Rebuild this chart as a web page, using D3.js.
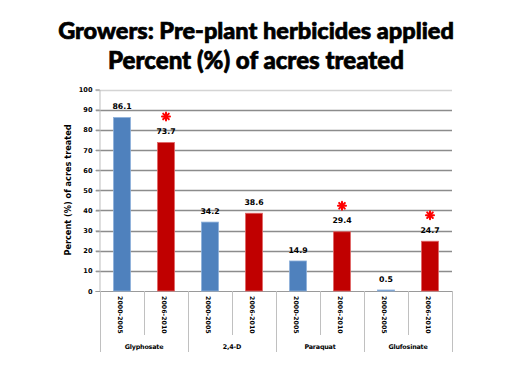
<!DOCTYPE html>
<html><head><meta charset="utf-8">
<script src="https://cdn.jsdelivr.net/npm/d3@7"></script>
<style>body{margin:0;background:#fff}svg{display:block}</style>
</head><body>
<svg id="c" width="512" height="384"></svg>
<script>
const groups = ["Glyphosate", "2,4-D", "Paraquat", "Glufosinate"];
const periods = ["2000-2005", "2006-2010"];
const values2000 = [86.1, 34.2, 14.9, 0.5];
const values2006 = [73.7, 38.6, 29.4, 24.7];
const significant = [true, false, true, true]; // asterisk on 2006-2010 bar
const yTicks = [0,10,20,30,40,50,60,70,80,90,100];
const titleLines = ["Growers: Pre-plant herbicides applied", "Percent (%) of acres treated"];
const yLabel = "Percent (%) of acres treated";

const colors = {"2000-2005": "#4F81BD", "2006-2010": "#C00000"};
const borders = {"2000-2005": "#8DB0DA", "2006-2010": "#E06666"};

const svg = d3.select("#c");
const L = 100, R = 452, T = 89.5, B = 291;
const x0 = d3.scaleBand().domain(groups).range([L, R]).padding(0);
const x1 = d3.scaleBand().domain(periods).range([0, x0.bandwidth()]).padding(0);
const y = d3.scaleLinear().domain([0, 100]).range([B, T]);
const barW = 17;

// title
const tf = "Lato, 'Open Sans', sans-serif";
const t1 = svg.append("text").attr("x", 256).attr("y", 39).attr("text-anchor","middle")
  .attr("font-family", tf).attr("font-weight", 900).attr("font-size", 23)
  .attr("stroke", "#000").attr("stroke-width", 0.7).text(titleLines[0]);
const t2 = svg.append("text").attr("x", 256).attr("y", 69).attr("text-anchor","middle")
  .attr("font-family", tf).attr("font-weight", 900).attr("font-size", 23)
  .attr("stroke", "#000").attr("stroke-width", 0.7).text(titleLines[1]);
function fit(t, w){ const l = t.node().getComputedTextLength(); t.attr("font-size", 23 * w / l); }
fit(t1, 396); fit(t2, 296);

// grid
svg.append("g").selectAll("line").data(yTicks.filter(d => d > 0)).join("line")
  .attr("x1", L - 4).attr("x2", R).attr("y1", d => Math.round(y(d)) + 0.5).attr("y2", d => Math.round(y(d)) + 0.5)
  .attr("stroke", d => d === 100 ? "#d4d4d4" : "#8c8c8c").attr("stroke-width", 1.3);

// y axis
const yAxis = d3.axisLeft(y).tickValues(yTicks).tickSize(4).tickPadding(3);
const ga = svg.append("g").attr("transform", `translate(${L - 0.5},0)`).call(yAxis);
ga.select(".domain").attr("stroke", "#bdbdbd");
ga.selectAll(".tick line").attr("stroke", "#9a9a9a");
ga.selectAll(".tick text").attr("font-family", "DejaVu Sans").attr("font-weight", "bold")
  .attr("font-size", 6.6).attr("fill", "#000");

// x axis line
svg.append("line").attr("x1", L - 4).attr("x2", R).attr("y1", B + 0.5).attr("y2", B + 0.5)
  .attr("stroke", "#9a9a9a").attr("stroke-width", 1.2);

// separators
const subs = [];
groups.forEach(g => periods.forEach(p => subs.push({g, p})));
svg.append("g").selectAll("line").data(groups).join("line")
  .attr("x1", d => x0(d) + x1.bandwidth() + 0.5).attr("x2", d => x0(d) + x1.bandwidth() + 0.5)
  .attr("y1", B).attr("y2", 335).attr("stroke", "#c0c0c0");
svg.append("g").selectAll("line").data(groups.concat(["_end"])).join("line")
  .attr("x1", (d,i) => L + i * x0.bandwidth() + 0.5).attr("x2", (d,i) => L + i * x0.bandwidth() + 0.5)
  .attr("y1", B).attr("y2", 352).attr("stroke", "#c0c0c0");

// year labels
svg.append("g").selectAll("text").data(subs).join("text")
  .attr("transform", d => `translate(${x0(d.g) + x1(d.p) + x1.bandwidth()/2 - 2},296) rotate(90)`)
  .attr("dy", "0.35em").attr("font-family", "DejaVu Sans").attr("font-weight", "bold")
  .attr("font-size", 6.3).attr("fill", "#000").text(d => d.p);

// group labels
svg.append("g").selectAll("text").data(groups).join("text")
  .attr("x", d => x0(d) + x0.bandwidth()/2).attr("y", 347).attr("dy", "0.35em")
  .attr("text-anchor", "middle").attr("font-family", "DejaVu Sans").attr("font-weight", "bold")
  .attr("font-size", 6.4).attr("letter-spacing", -0.2).attr("fill", "#000").text(d => d);

// bars
const bars = [];
groups.forEach((g, i) => {
  bars.push({g, p: periods[0], v: values2000[i], sig: false});
  bars.push({g, p: periods[1], v: values2006[i], sig: significant[i]});
});
const cx = d => x0(d.g) + x1(d.p) + x1.bandwidth()/2;
svg.append("g").selectAll("rect").data(bars).join("rect")
  .attr("x", d => cx(d) - barW/2).attr("width", barW)
  .attr("y", d => y(d.v)).attr("height", d => B - y(d.v))
  .attr("fill", d => colors[d.p]).attr("stroke", d => borders[d.p]).attr("stroke-width", 0.8);

// value labels
svg.append("g").selectAll("text").data(bars).join("text")
  .attr("x", d => cx(d)).attr("y", d => y(d.v) - 11).attr("dy", "0.35em")
  .attr("text-anchor", "middle").attr("font-family", "DejaVu Sans").attr("font-weight", "bold")
  .attr("font-size", 7.8).attr("fill", "#000").text(d => d.v.toFixed(1));

// asterisks
const ast = svg.append("g").selectAll("g").data(bars.filter(d => d.sig)).join("g")
  .attr("transform", d => `translate(${cx(d)},${y(d.v) - 26})`);
[0, 45, 90, 135].forEach(a => {
  ast.append("line").attr("x1", -4).attr("x2", 4).attr("y1", 0).attr("y2", 0)
    .attr("transform", `rotate(${a})`).attr("stroke", "#ff0000").attr("stroke-width", 2)
    .attr("stroke-linecap", "round");
});

// y label
svg.append("text").attr("transform", "translate(68,190) rotate(-90)").attr("dy", "0.35em")
  .attr("text-anchor", "middle").attr("font-family", "DejaVu Sans").attr("font-weight", "bold")
  .attr("font-size", 8.2).attr("fill", "#000").text(yLabel);
</script>
</body></html>
